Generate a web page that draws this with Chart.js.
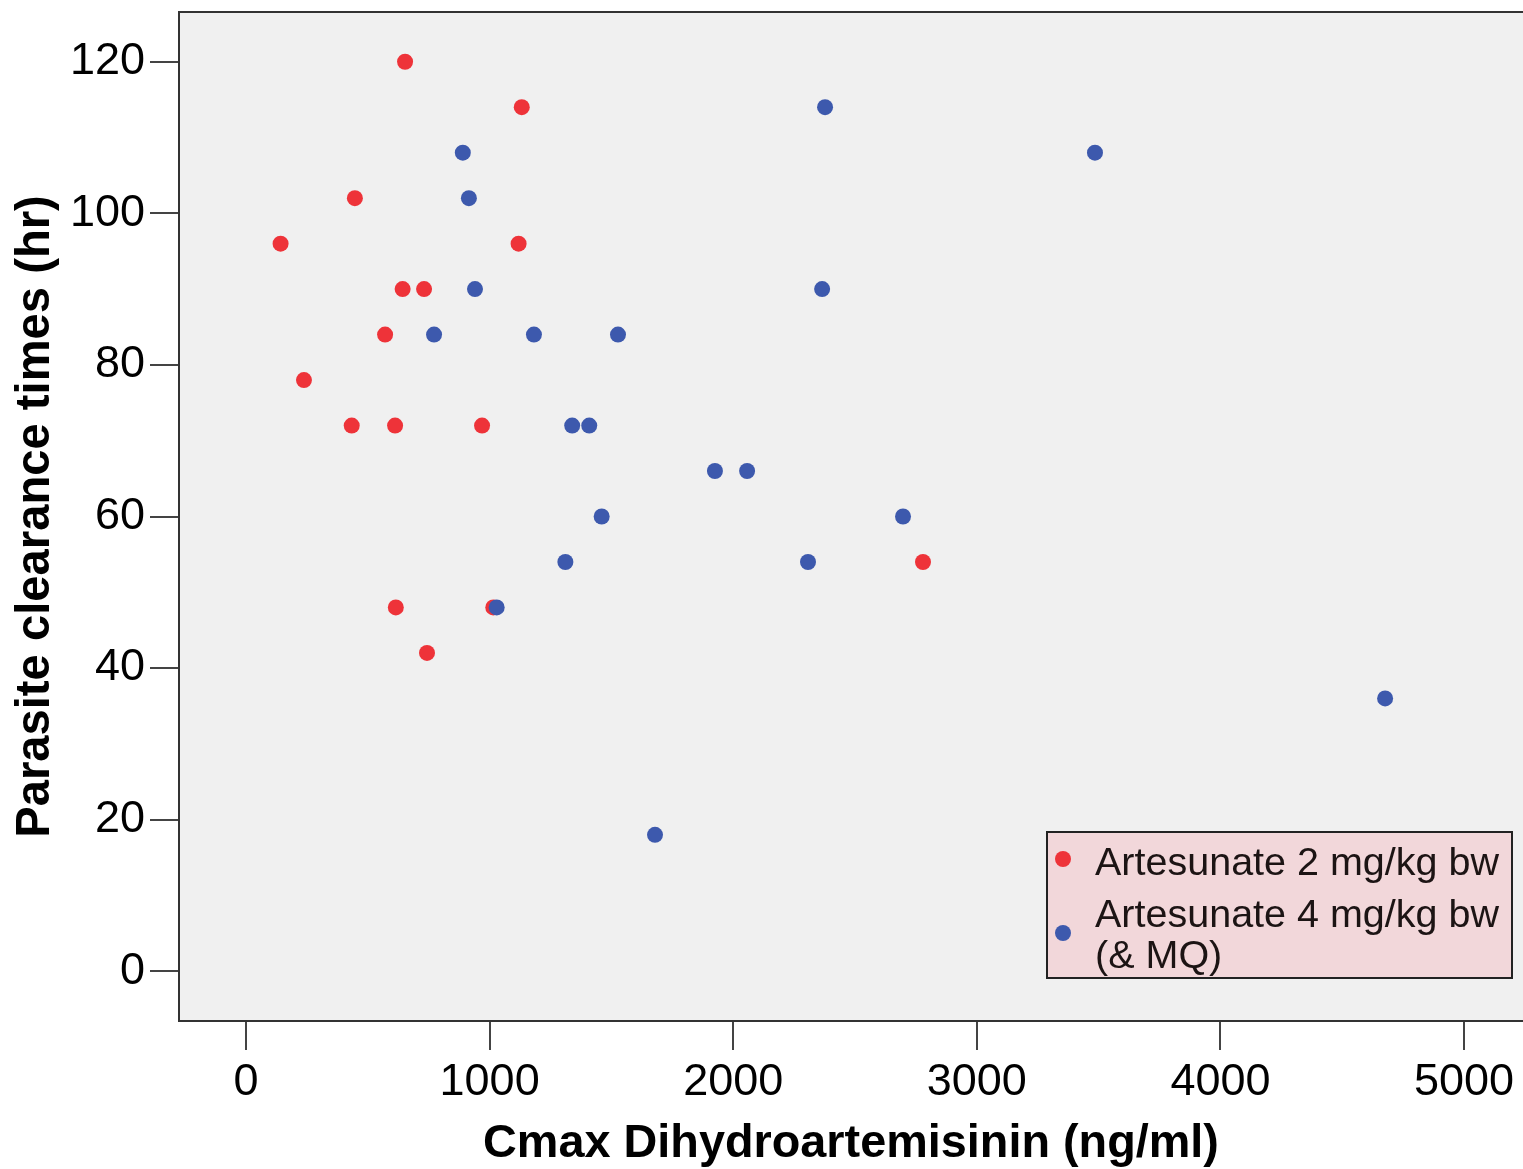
<!DOCTYPE html>
<html><head><meta charset="utf-8">
<script src="https://cdn.jsdelivr.net/npm/chart.js@4.4.1/dist/chart.umd.min.js"></script>
<style>html,body{margin:0;padding:0;background:#fff;overflow:hidden;} canvas{display:block;}</style>
</head><body><canvas id="c" width="1523" height="1169" style="width:1523px;height:1169px;"></canvas>
<script>
// ---- data ----
const seriesNames = ['Artesunate 2 mg/kg bw', 'Artesunate 4 mg/kg bw (& MQ)'];
const as2X = [142, 238, 434, 447, 571, 612, 615, 643, 653, 731, 743, 969, 1015, 1119, 1132, 2779];
const as2Y = [96, 78, 72, 102, 84, 72, 48, 90, 120, 90, 42, 72, 48, 96, 114, 54];
const as4X = [772, 890, 915, 940, 1029, 1182, 1311, 1339, 1409, 1460, 1527, 1679, 1925, 2057, 2307, 2365, 2377, 2697, 3485, 4676];
const as4Y = [84, 108, 102, 90, 48, 84, 54, 72, 72, 60, 84, 18, 66, 66, 54, 90, 114, 60, 108, 36];
const xTickValues = [0, 1000, 2000, 3000, 4000, 5000];
const yTickValues = [0, 20, 40, 60, 80, 100, 120];
const xTitle = 'Cmax Dihydroartemisinin (ng/ml)';
const yTitle = 'Parasite clearance times (hr)';
const legendLines = [['Artesunate 2 mg/kg bw'], ['Artesunate 4 mg/kg bw', '(& MQ)']];
const colors = ['#EE3339', '#3D59AD'];

const FAM = "'Liberation Sans', Arial, sans-serif";

const pts = (xs, ys) => xs.map((x, i) => ({x: x, y: ys[i]}));

const decor = {
  id: 'decor',
  beforeDraw(chart) {
    const {ctx, chartArea: a} = chart;
    ctx.save();
    ctx.fillStyle = '#ffffff';
    ctx.fillRect(0, 0, chart.width, chart.height);
    ctx.fillStyle = '#F0F0F0';
    ctx.fillRect(a.left, a.top, a.right - a.left, a.bottom - a.top);
    ctx.restore();
  },
  afterDraw(chart) {
    const {ctx, chartArea: a} = chart;
    ctx.save();
    // top frame line
    ctx.strokeStyle = '#333';
    ctx.lineWidth = 2;
    ctx.beginPath();
    ctx.moveTo(a.left, a.top);
    ctx.lineTo(a.right, a.top);
    ctx.stroke();
    // legend
    const bx = 1047, by = 832, bw = 465, bh = 146;
    ctx.fillStyle = '#F2D7DA';
    ctx.fillRect(bx, by, bw, bh);
    ctx.strokeStyle = '#222';
    ctx.lineWidth = 2;
    ctx.strokeRect(bx, by, bw, bh);
    ctx.font = '39.5px ' + FAM;
    ctx.textBaseline = 'alphabetic';
    ctx.textAlign = 'left';
    const baselines = [[875], [927, 968]];
    const markerY = [859, 933];
    legendLines.forEach((lines, i) => {
      ctx.fillStyle = '#1c1414';
      lines.forEach((t, j) => ctx.fillText(t, 1095, baselines[i][j]));
      ctx.beginPath();
      ctx.fillStyle = colors[i];
      ctx.arc(1063, markerY[i], 8, 0, Math.PI * 2);
      ctx.fill();
    });
    ctx.restore();
  }
};

new Chart(document.getElementById('c'), {
  type: 'scatter',
  data: {
    datasets: [
      {label: seriesNames[0], data: pts(as2X, as2Y), backgroundColor: colors[0], borderWidth: 0, pointRadius: 8, order: 2},
      {label: seriesNames[1], data: pts(as4X, as4Y), backgroundColor: colors[1], borderWidth: 0, pointRadius: 8, order: 1}
    ]
  },
  options: {
    responsive: false,
    animation: false,
    devicePixelRatio: 1,
    layout: {autoPadding: false, padding: {top: 12, right: 0, bottom: 0, left: 0}},
    plugins: {legend: {display: false}, tooltip: {enabled: false}},
    scales: {
      x: {
        type: 'linear', min: -275, max: 5242,
        afterBuildTicks: s => { s.ticks = xTickValues.map(v => ({value: v})); },
        afterFit: s => { s.height = 148; s.paddingLeft = 0; s.paddingRight = 0; },
        grid: {display: true, drawOnChartArea: false, drawTicks: true, tickLength: 29, color: '#444', lineWidth: 2},
        border: {display: true, color: '#333', width: 2},
        ticks: {font: {size: 45, family: FAM}, color: '#000', padding: 6, maxRotation: 0, autoSkip: false, callback: v => String(v)},
        title: {display: true, text: xTitle, color: '#000', font: {size: 46.8, weight: 'bold', family: FAM, lineHeight: 1}, padding: {top: 0, bottom: 2}}
      },
      y: {
        type: 'linear', min: -6.56, max: 126.56,
        afterBuildTicks: s => { s.ticks = yTickValues.map(v => ({value: v})); },
        afterFit: s => { s.width = 179; s.paddingTop = 0; s.paddingBottom = 0; },
        grid: {display: true, drawOnChartArea: false, drawTicks: true, tickLength: 29, color: '#444', lineWidth: 2},
        border: {display: true, color: '#333', width: 2},
        ticks: {font: {size: 45, family: FAM}, color: '#000', padding: 5, autoSkip: false, callback: v => String(v)},
        title: {display: true, text: yTitle, color: '#000', font: {size: 47.2, weight: 'bold', family: FAM, lineHeight: 1}, padding: {top: 12, bottom: 0}}
      }
    }
  },
  plugins: [decor]
});
</script>
</body></html>
